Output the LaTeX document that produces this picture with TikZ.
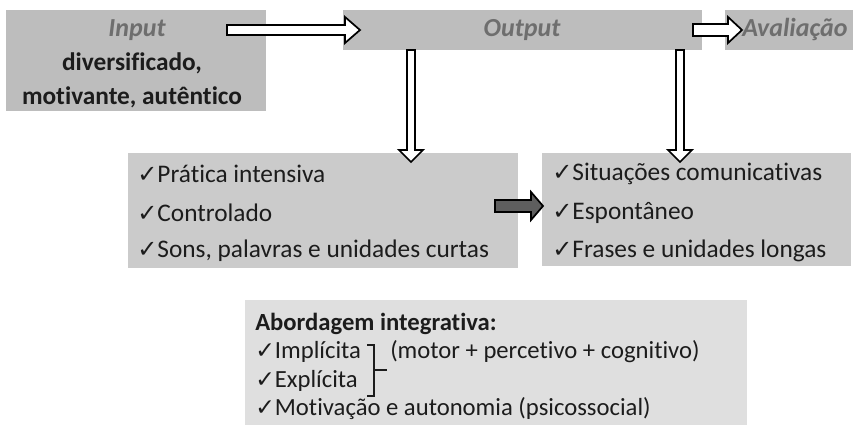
\documentclass[tikz,border=0pt]{standalone}
\usepackage{fontspec}
\setmainfont[Ligatures=NoCommon]{Carlito}
\newfontfamily\dejavu[Scale=0.95]{DejaVu Sans}
\definecolor{boxdark}{HTML}{BDBDBD}
\definecolor{boxmid}{HTML}{CBCBCB}
\definecolor{boxlight}{HTML}{DFDFDF}
\definecolor{txtgray}{HTML}{6E6E6E}
\definecolor{txtdark}{HTML}{1C1C1C}
\definecolor{arrgray}{HTML}{5E5E5E}
\newcommand\ck{{\dejavu ✓}}
\tikzset{
  lbl/.style={inner sep=0pt, anchor=west, text=txtdark},
  head/.style={inner sep=0pt, text=txtgray, font=\fontsize{19.5}{22}\selectfont\bfseries\itshape},
  inbox/.style={inner sep=0pt, text=txtdark, align=center, font=\fontsize{19}{25.5}\selectfont\bfseries},
  listtxt/.style={lbl, font=\fontsize{19}{22}\selectfont},
  bottxt/.style={lbl, font=\fontsize{18.5}{21}\selectfont},
  blockarrow/.style={draw=black, line width=1.3pt, fill=white, line join=miter},
}
\begin{document}
\begin{tikzpicture}[x=0.75pt,y=-0.75pt]
\useasboundingbox (0,0) rectangle (853,425);
% boxes
\fill[boxdark] (6,10) rectangle (266,111);
\fill[boxdark] (343,10) rectangle (702,50);
\fill[boxdark] (725,10) rectangle (853,50);
\fill[boxmid] (128,153) rectangle (518,268);
\fill[boxmid] (542,153) rectangle (851,266);
\fill[boxlight] (245,300) rectangle (747,425);
% top texts
\node[head] (input) at (137,30) {Input};
\node[inbox] (inputtxt) at (132,80) {diversificado,\\motivante, autêntico};
\node[head] (output) at (522,30) {Output};
\node[head, anchor=west] (aval) at (742,30) {Avaliação};
% block arrows
\draw[blockarrow] (227,25) -- (345,25) -- (345,17) -- (360,30) -- (345,43) -- (345,35) -- (227,35) -- cycle;
\draw[blockarrow] (693,24) -- (728,24) -- (728,17) -- (742,30) -- (728,43) -- (728,36) -- (693,36) -- cycle;
\draw[blockarrow] (407,50) -- (415,50) -- (415,150) -- (423,150) -- (411,162) -- (399,150) -- (407,150) -- cycle;
\draw[blockarrow] (676,50) -- (684,50) -- (684,150) -- (692,150) -- (680,162) -- (668,150) -- (676,150) -- cycle;
\draw[draw=black, line width=1.3pt, fill=arrgray, line join=miter] (495,200) -- (531,200) -- (531,192) -- (543,206) -- (531,220) -- (531,212) -- (495,212) -- cycle;
% left list
\node[listtxt] (l1) at (137,174) {\ck Prática intensiva};
\node[listtxt] (l2) at (137,213) {\ck Controlado};
\node[listtxt] (l3) at (137,251) {\ck Sons, palavras e unidades curtas};
% right list
\node[listtxt] (r1) at (552,174) {\ck Situações comunicativas};
\node[listtxt] (r2) at (552,213) {\ck Espontâneo};
\node[listtxt] (r3) at (552,251) {\ck Frases e unidades longas};
% bottom box
\node[bottxt, font=\fontsize{18.5}{21}\selectfont\bfseries] (b0) at (255,324) {Abordagem integrativa:};
\node[bottxt] (b1) at (255,352) {\ck Implícita};
\node[bottxt] (b2) at (255,381) {\ck Explícita};
\node[bottxt] (b3) at (255,409) {\ck Motivação e autonomia (psicossocial)};
\node[bottxt] (b4) at (390,352) {(motor + percetivo + cognitivo)};
\draw[line width=1.3pt, txtdark] (367,345) -- (374,345) -- (374,396) -- (367,396);
\draw[line width=1.3pt, txtdark] (374,370) -- (387,370);
\end{tikzpicture}
\end{document}
